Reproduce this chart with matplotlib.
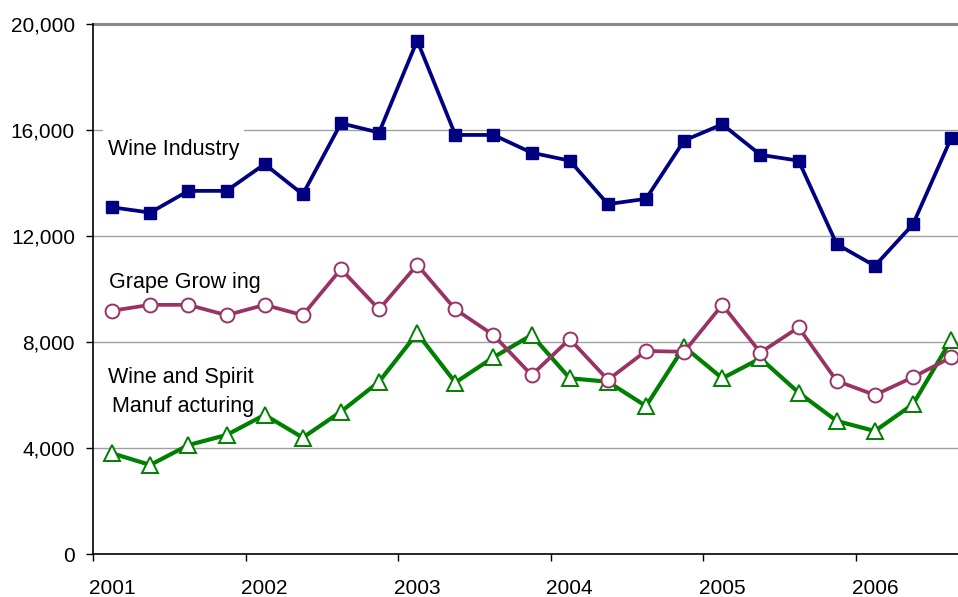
import matplotlib
matplotlib.use("Agg")
import matplotlib.pyplot as plt
from matplotlib.patches import Rectangle
import numpy as np

plt.rcParams['font.family'] = ['Liberation Sans', 'DejaVu Sans']

years = ["2001", "2002", "2003", "2004", "2005", "2006"]
quarters = list(range(23))  # 2001 Q1 .. 2006 Q3

wine_industry = [13080, 12880, 13700, 13700, 14710, 13570, 16250, 15900,
                 19370, 15810, 15810, 15140, 14840, 13200, 13400,
                 15600, 16210, 15060, 14840, 11690, 10870, 12440, 15690]
grape_growing = [9180, 9400, 9400, 9010, 9400, 9010, 10750, 9230,
                 10910, 9230, 8260, 6750, 8110, 6570, 7660,
                 7630, 9400, 7600, 8550, 6530, 6000, 6670, 7420]
wine_spirit = [3800, 3360, 4110, 4490, 5250, 4390, 5370, 6500,
               8330, 6470, 7420, 8260, 6630, 6500, 5580,
               7820, 6630, 7380, 6090, 5020, 4640, 5650, 8080]

fig = plt.figure(figsize=(9.58, 5.97), dpi=100)
ax = fig.add_axes([0.0971, 0.072, 0.9029, 0.888])

x = np.array(quarters)
ax.plot(x, wine_industry, color='#000080', lw=2.7, marker='s', ms=8,
        mfc='#000080', mec='#000080', clip_on=False, zorder=5)
ax.plot(x, grape_growing, color='#993366', lw=2.7, marker='o', ms=10,
        mfc='white', mec='#993366', mew=1.4, clip_on=False, zorder=4)
ax.plot(x, wine_spirit, color='#008000', lw=3.0, marker='^', ms=11.5,
        mfc='white', mec='#008000', mew=1.4, clip_on=False, zorder=3)

ax.set_xlim(-0.5, 22.18)
ax.set_ylim(0, 20000)

yt = [0, 4000, 8000, 12000, 16000, 20000]
ax.set_yticks(yt)
ax.set_yticklabels([f"{v:,}" for v in yt], fontsize=15)
for v in yt[1:-1]:
    ax.axhline(v, color='#a0a0a0', lw=1.0, zorder=1)
ax.axhline(20000, color='#888888', lw=2.2, zorder=1, clip_on=False)

ax.set_xticks(np.arange(-0.5, 23, 4))
ax.set_xticklabels([])
ax.set_xticks(np.arange(0, 23, 4), minor=True)
ax.set_xticklabels(years, minor=True, fontsize=15)
ax.tick_params(axis='x', which='major', direction='out', length=5, width=1, color='black')
ax.tick_params(axis='x', which='minor', length=0, pad=18)
ax.tick_params(axis='y', direction='out', length=5, width=1, pad=8)

for s in ['top', 'right']:
    ax.spines[s].set_visible(False)
ax.spines['left'].set_color('black')
ax.spines['bottom'].set_color('black')
ax.spines['left'].set_linewidth(1.2)
ax.spines['bottom'].set_linewidth(1.2)

# white text box behind the "Wine Industry" label (hides the gridline)
ax.add_patch(Rectangle((-0.236, 14490), 3.69, 1700, facecolor='white',
                       edgecolor='none', zorder=1.5))
ax.text(-0.1, 15250, "Wine Industry", fontsize=15.5, va='center', ha='left', zorder=2)
ax.text(-0.07, 10230, "Grape Grow ing", fontsize=15.5, va='center', ha='left', zorder=2)
ax.text(-0.1, 6660, "Wine and Spirit", fontsize=15.5, va='center', ha='left', zorder=2)
ax.text(0.0, 5550, "Manuf acturing", fontsize=15.5, va='center', ha='left', zorder=2)

fig.savefig("out.png", dpi=100)
